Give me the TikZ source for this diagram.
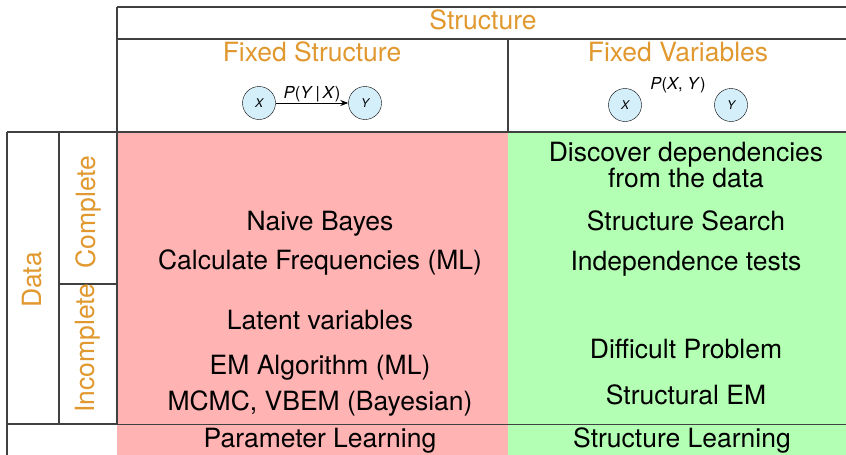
\documentclass[tikz,border=0pt]{standalone}
\usepackage{fontspec}
\setmainfont{TeX Gyre Heros}
\usepackage{xcolor}
\usepackage{tikz}
\usetikzlibrary{arrows.meta,positioning}
\definecolor{headorange}{HTML}{E0982F}
\definecolor{paramred}{HTML}{FFB3B3}
\definecolor{structgreen}{HTML}{B3FFB3}
\definecolor{varblue}{HTML}{D4EEFA}
\definecolor{gridgray}{HTML}{404040}

\begin{document}
\begin{tikzpicture}[x=1pt,y=-1pt,
  head/.style={text=headorange,font=\fontsize{26.5}{28}\selectfont,inner sep=0pt},
  cell/.style={font=\fontsize{26.5}{23.5}\selectfont,inner sep=0pt,anchor=base},
  var/.style={draw,circle,fill=varblue,minimum size=33pt,inner sep=0pt,
              font=\fontsize{12}{13}\selectfont\itshape},
  prob/.style={font=\fontsize{16.5}{17}\selectfont,inner sep=1pt},
  arr/.style={-{Stealth[length=8pt]},thick},
  grid/.style={gridgray,line width=1.2pt}]
  \useasboundingbox (0,0) rectangle (846,455);
  % coloured areas
  \fill[paramred] (117,132) rectangle (508,455);
  \fill[structgreen] (508,132) rectangle (846,455);
  % table lines
  \draw[grid] (117,7) -- (846,7);
  \draw[grid] (117,39) -- (846,39);
  \draw[grid] (508,39) -- (508,132);
  \draw[grid] (7,132) -- (846,132);
  \draw[grid] (117,7) -- (117,424);
  \draw[grid] (7,132) -- (7,455);
  \draw[grid] (59,132) -- (59,424);
  \draw[grid] (59,284) -- (117,284);
  \draw[grid] (7,424) -- (117,424);
  \draw[gridgray,line width=.8pt] (117,424) -- (846,424);
  % headings
  \node[head] (struct) at (483,20) {Structure};
  \node[head] (fixs) at (312,52) {Fixed Structure};
  \node[head] (fixv) at (678,52) {Fixed Variables};
  \node[head,rotate=90] (data) at (32,280) {Data};
  \node[head,rotate=90] (compl) at (88,212) {Complete};
  \node[head,rotate=90] (incompl) at (88,348) {Incomplete};
  % small networks
  \node[var] (x1) at (259,103) {X};
  \node[var] (y1) at (365,103) {Y};
  \draw[arr] (x1) -- node[prob,above] {\textit{P}(\textit{Y}\,|\,\textit{X})} (y1);
  \node[var] (x2) at (625,105) {X};
  \node[var] (y2) at (731,105) {Y};
  \node[prob] (pxy) at (678,85) {\textit{P}(\textit{X}, \textit{Y})};
  % fixed structure
  \node[cell] (nb) at (320,230) {Naive Bayes};
  \node[cell] (freq) at (320,269) {Calculate Frequencies (ML)};
  \node[cell] (latent) at (320,329) {Latent variables};
  \node[cell] (em) at (320,374) {EM Algorithm (ML)};
  \node[cell] (mcmc) at (320,410) {MCMC, VBEM (Bayesian)};
  \node[cell] (param) at (320,447) {Parameter Learning};
  % fixed variables
  \node[cell,anchor=center,align=center] (disc) at (686,165) {Discover dependencies\\from the data};
  \node[cell] (search) at (686,230) {Structure Search};
  \node[cell] (indep) at (686,270) {Independence tests};
  \node[cell] (diff) at (686,358) {Difficult Problem};
  \node[cell] (sem) at (686,404) {Structural EM};
  \node[cell] (slearn) at (682,447) {Structure Learning};
\end{tikzpicture}
\end{document}
